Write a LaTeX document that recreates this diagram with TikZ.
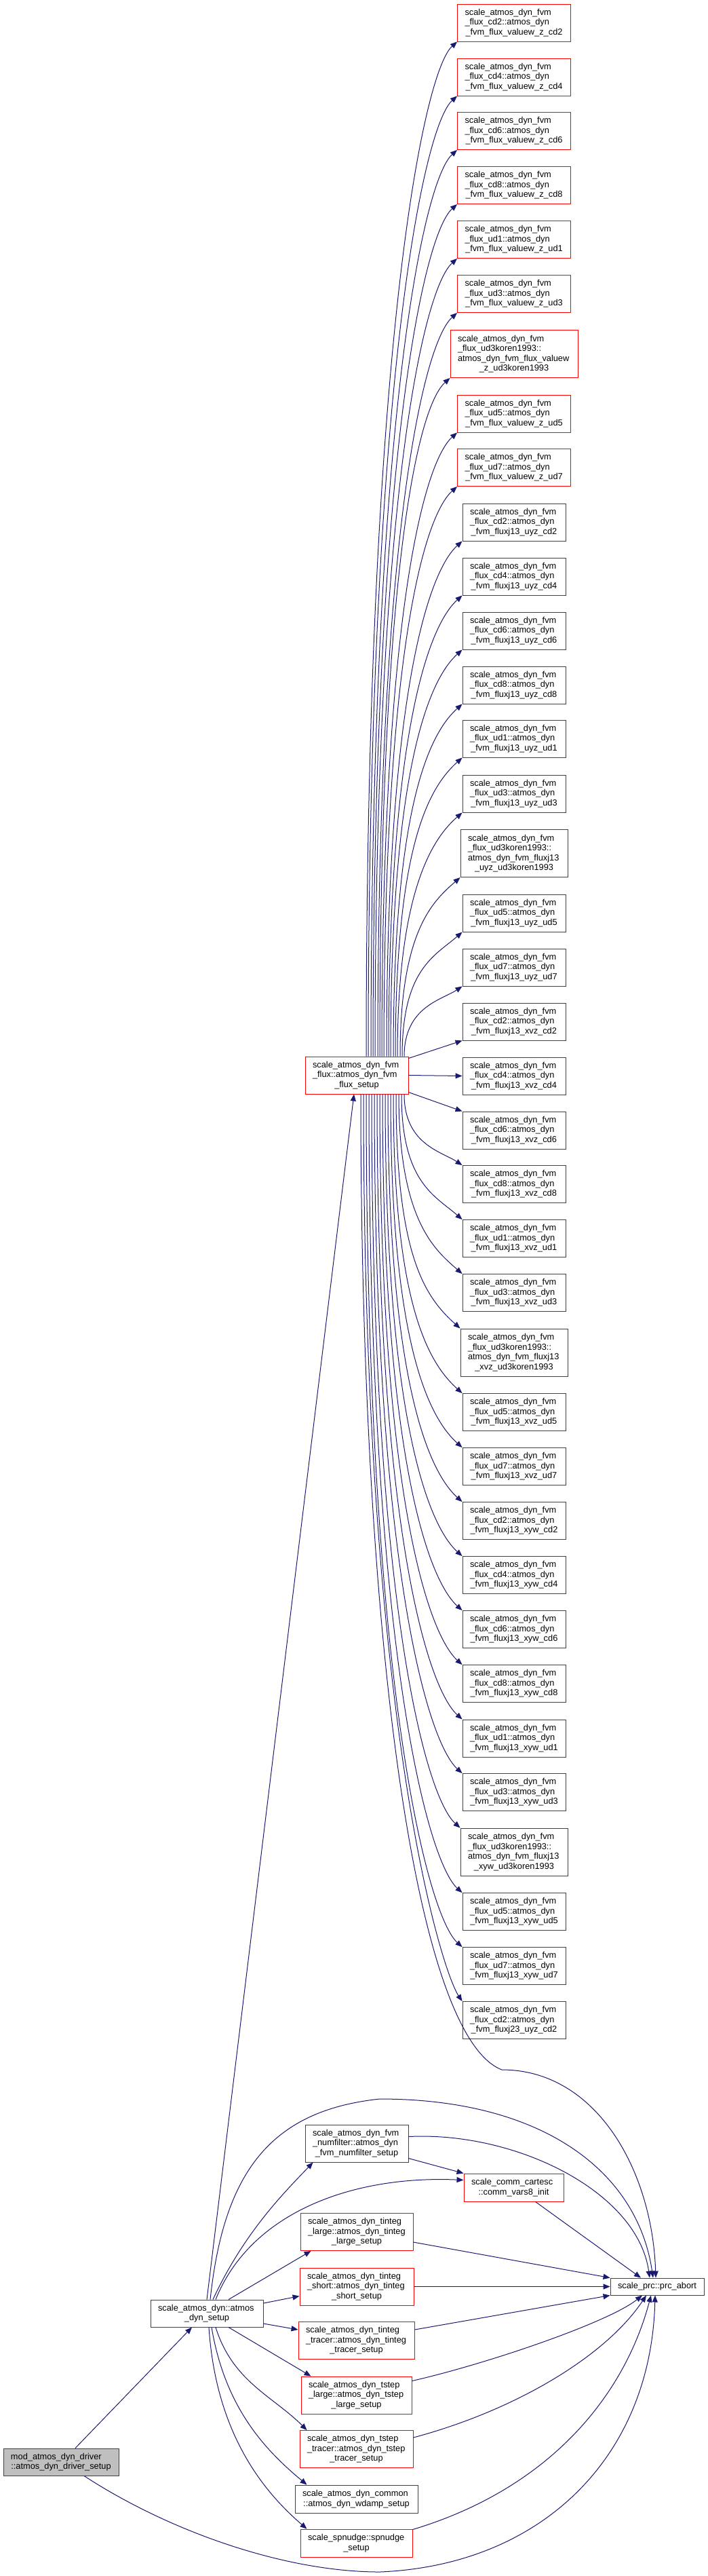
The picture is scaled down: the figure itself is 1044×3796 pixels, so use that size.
\documentclass[tikz,border=0pt]{standalone}
\usepackage{fontspec}
\setmainfont{Liberation Sans}
\usetikzlibrary{arrows.meta}
\definecolor{cblue}{HTML}{191970}
\definecolor{cgray}{HTML}{404040}
\definecolor{cred}{HTML}{FF0000}
\definecolor{cfill}{HTML}{BFBFBF}
\newcommand{\botline}[1]{\\\makebox[\linewidth]{#1}}

\begin{document}
\begin{tikzpicture}[x=1pt,y=-1pt,
  cgbox/.style={rectangle, draw=cgray, fill=white, line width=0.9pt, inner xsep=11pt, inner ysep=2pt, align=left, font=\fontsize{12.8pt}{14.5pt}\selectfont},
  cgred/.style={cgbox, draw=cred},
  cgroot/.style={cgbox, fill=cfill},
  hthree/.style={minimum height=55pt},
  hfour/.style={minimum height=70pt},
  htwo/.style={minimum height=41pt},
  fvmv/.style={cgred, hthree, text width=145pt},
  fvmvk/.style={cgred, hfour, text width=166pt},
  fvmj/.style={cgbox, hthree, text width=130pt},
  fvmjk/.style={cgbox, hfour, text width=136pt},
  callarrow/.style={draw=cblue, line width=1pt, -{Triangle[length=10pt,width=8pt]}}]
\useasboundingbox (0,0) rectangle (1044,3796);

\node[fvmv] (vcd2) at (758,33.5) {scale\_atmos\_dyn\_fvm\\\_flux\_cd2::atmos\_dyn\botline{\_fvm\_flux\_valuew\_z\_cd2}};
\node[fvmv] (vcd4) at (758,113.5) {scale\_atmos\_dyn\_fvm\\\_flux\_cd4::atmos\_dyn\botline{\_fvm\_flux\_valuew\_z\_cd4}};
\node[fvmv] (vcd6) at (758,193) {scale\_atmos\_dyn\_fvm\\\_flux\_cd6::atmos\_dyn\botline{\_fvm\_flux\_valuew\_z\_cd6}};
\node[fvmv] (vcd8) at (758,273) {scale\_atmos\_dyn\_fvm\\\_flux\_cd8::atmos\_dyn\botline{\_fvm\_flux\_valuew\_z\_cd8}};
\node[fvmv] (vud1) at (758,353) {scale\_atmos\_dyn\_fvm\\\_flux\_ud1::atmos\_dyn\botline{\_fvm\_flux\_valuew\_z\_ud1}};
\node[fvmv] (vud3) at (758,433) {scale\_atmos\_dyn\_fvm\\\_flux\_ud3::atmos\_dyn\botline{\_fvm\_flux\_valuew\_z\_ud3}};
\node[fvmvk] (vkoren) at (758,521.5) {scale\_atmos\_dyn\_fvm\\\_flux\_ud3koren1993::\\atmos\_dyn\_fvm\_flux\_valuew\botline{\_z\_ud3koren1993}};
\node[fvmv] (vud5) at (758,609.5) {scale\_atmos\_dyn\_fvm\\\_flux\_ud5::atmos\_dyn\botline{\_fvm\_flux\_valuew\_z\_ud5}};
\node[fvmv] (vud7) at (758,689) {scale\_atmos\_dyn\_fvm\\\_flux\_ud7::atmos\_dyn\botline{\_fvm\_flux\_valuew\_z\_ud7}};

\node[fvmj] (ucd2) at (758,769.5) {scale\_atmos\_dyn\_fvm\\\_flux\_cd2::atmos\_dyn\botline{\_fvm\_fluxj13\_uyz\_cd2}};
\node[fvmj] (ucd4) at (758,849.5) {scale\_atmos\_dyn\_fvm\\\_flux\_cd4::atmos\_dyn\botline{\_fvm\_fluxj13\_uyz\_cd4}};
\node[fvmj] (ucd6) at (758,929.5) {scale\_atmos\_dyn\_fvm\\\_flux\_cd6::atmos\_dyn\botline{\_fvm\_fluxj13\_uyz\_cd6}};
\node[fvmj] (ucd8) at (758,1009.5) {scale\_atmos\_dyn\_fvm\\\_flux\_cd8::atmos\_dyn\botline{\_fvm\_fluxj13\_uyz\_cd8}};
\node[fvmj] (uud1) at (758,1088.5) {scale\_atmos\_dyn\_fvm\\\_flux\_ud1::atmos\_dyn\botline{\_fvm\_fluxj13\_uyz\_ud1}};
\node[fvmj] (uud3) at (758,1169.5) {scale\_atmos\_dyn\_fvm\\\_flux\_ud3::atmos\_dyn\botline{\_fvm\_fluxj13\_uyz\_ud3}};
\node[fvmjk] (ukoren) at (758,1257.5) {scale\_atmos\_dyn\_fvm\\\_flux\_ud3koren1993::\\atmos\_dyn\_fvm\_fluxj13\botline{\_uyz\_ud3koren1993}};
\node[fvmj] (uud5) at (758,1345.5) {scale\_atmos\_dyn\_fvm\\\_flux\_ud5::atmos\_dyn\botline{\_fvm\_fluxj13\_uyz\_ud5}};
\node[fvmj] (uud7) at (758,1425.5) {scale\_atmos\_dyn\_fvm\\\_flux\_ud7::atmos\_dyn\botline{\_fvm\_fluxj13\_uyz\_ud7}};

\node[fvmj] (xcd2) at (758,1505.5) {scale\_atmos\_dyn\_fvm\\\_flux\_cd2::atmos\_dyn\botline{\_fvm\_fluxj13\_xvz\_cd2}};
\node[fvmj] (xcd4) at (758,1585.5) {scale\_atmos\_dyn\_fvm\\\_flux\_cd4::atmos\_dyn\botline{\_fvm\_fluxj13\_xvz\_cd4}};
\node[fvmj] (xcd6) at (758,1665.5) {scale\_atmos\_dyn\_fvm\\\_flux\_cd6::atmos\_dyn\botline{\_fvm\_fluxj13\_xvz\_cd6}};
\node[fvmj] (xcd8) at (758,1745) {scale\_atmos\_dyn\_fvm\\\_flux\_cd8::atmos\_dyn\botline{\_fvm\_fluxj13\_xvz\_cd8}};
\node[fvmj] (xud1) at (758,1825) {scale\_atmos\_dyn\_fvm\\\_flux\_ud1::atmos\_dyn\botline{\_fvm\_fluxj13\_xvz\_ud1}};
\node[fvmj] (xud3) at (758,1905) {scale\_atmos\_dyn\_fvm\\\_flux\_ud3::atmos\_dyn\botline{\_fvm\_fluxj13\_xvz\_ud3}};
\node[fvmjk] (xkoren) at (758,1993) {scale\_atmos\_dyn\_fvm\\\_flux\_ud3koren1993::\\atmos\_dyn\_fvm\_fluxj13\botline{\_xvz\_ud3koren1993}};
\node[fvmj] (xud5) at (758,2081) {scale\_atmos\_dyn\_fvm\\\_flux\_ud5::atmos\_dyn\botline{\_fvm\_fluxj13\_xvz\_ud5}};
\node[fvmj] (xud7) at (758,2161) {scale\_atmos\_dyn\_fvm\\\_flux\_ud7::atmos\_dyn\botline{\_fvm\_fluxj13\_xvz\_ud7}};

\node[fvmj] (wcd2) at (758,2241) {scale\_atmos\_dyn\_fvm\\\_flux\_cd2::atmos\_dyn\botline{\_fvm\_fluxj13\_xyw\_cd2}};
\node[fvmj] (wcd4) at (758,2321) {scale\_atmos\_dyn\_fvm\\\_flux\_cd4::atmos\_dyn\botline{\_fvm\_fluxj13\_xyw\_cd4}};
\node[fvmj] (wcd6) at (758,2401) {scale\_atmos\_dyn\_fvm\\\_flux\_cd6::atmos\_dyn\botline{\_fvm\_fluxj13\_xyw\_cd6}};
\node[fvmj] (wcd8) at (758,2481) {scale\_atmos\_dyn\_fvm\\\_flux\_cd8::atmos\_dyn\botline{\_fvm\_fluxj13\_xyw\_cd8}};
\node[fvmj] (wud1) at (758,2561.5) {scale\_atmos\_dyn\_fvm\\\_flux\_ud1::atmos\_dyn\botline{\_fvm\_fluxj13\_xyw\_ud1}};
\node[fvmj] (wud3) at (758,2641) {scale\_atmos\_dyn\_fvm\\\_flux\_ud3::atmos\_dyn\botline{\_fvm\_fluxj13\_xyw\_ud3}};
\node[fvmjk] (wkoren) at (758,2729) {scale\_atmos\_dyn\_fvm\\\_flux\_ud3koren1993::\\atmos\_dyn\_fvm\_fluxj13\botline{\_xyw\_ud3koren1993}};
\node[fvmj] (wud5) at (758,2817) {scale\_atmos\_dyn\_fvm\\\_flux\_ud5::atmos\_dyn\botline{\_fvm\_fluxj13\_xyw\_ud5}};
\node[fvmj] (wud7) at (758,2897) {scale\_atmos\_dyn\_fvm\\\_flux\_ud7::atmos\_dyn\botline{\_fvm\_fluxj13\_xyw\_ud7}};
\node[fvmj] (jcd2) at (758,2977) {scale\_atmos\_dyn\_fvm\\\_flux\_cd2::atmos\_dyn\botline{\_fvm\_fluxj23\_uyz\_cd2}};

\node[cgred, hthree, text width=130pt] (fluxsetup) at (526,1584.5) {scale\_atmos\_dyn\_fvm\\\_flux::atmos\_dyn\_fvm\botline{\_flux\_setup}};
\node[cgbox, hthree, text width=130pt] (numfilter) at (526,3158.5) {scale\_atmos\_dyn\_fvm\\\_numfilter::atmos\_dyn\botline{\_fvm\_numfilter\_setup}};
\node[cgred, htwo, text width=125pt] (comm) at (757.5,3223.5) {scale\_comm\_cartesc\botline{::comm\_vars8\_init}};
\node[cgred, hthree, text width=144pt] (tlarge) at (526,3289) {scale\_atmos\_dyn\_tinteg\\\_large::atmos\_dyn\_tinteg\botline{\_large\_setup}};
\node[cgred, hthree, text width=146pt] (tshort) at (526,3369.5) {scale\_atmos\_dyn\_tinteg\\\_short::atmos\_dyn\_tinteg\botline{\_short\_setup}};
\node[cgred, hthree, text width=149pt] (ttracer) at (525.5,3449) {scale\_atmos\_dyn\_tinteg\\\_tracer::atmos\_dyn\_tinteg\botline{\_tracer\_setup}};
\node[cgred, hthree, text width=141pt] (slarge) at (525.5,3529.5) {scale\_atmos\_dyn\_tstep\\\_large::atmos\_dyn\_tstep\botline{\_large\_setup}};
\node[cgred, hthree, text width=145pt] (stracer) at (525.5,3609) {scale\_atmos\_dyn\_tstep\\\_tracer::atmos\_dyn\_tstep\botline{\_tracer\_setup}};
\node[cgbox, htwo, text width=159pt] (wdamp) at (525.5,3682.5) {scale\_atmos\_dyn\_common\botline{::atmos\_dyn\_wdamp\_setup}};
\node[cgred, htwo, text width=143pt] (spnudge) at (525.5,3747.5) {scale\_spnudge::spnudge\botline{\_setup}};
\node[cgbox, minimum height=25pt, text width=116pt, align=center] (prc) at (969,3369.5) {scale\_prc::prc\_abort};
\node[cgbox, minimum height=40pt, text width=144pt] (ads) at (305,3409) {scale\_atmos\_dyn::atmos\botline{\_dyn\_setup}};
\node[cgroot, minimum height=40pt, text width=148pt] (driver) at (90,3628) {mod\_atmos\_dyn\_driver\botline{::atmos\_dyn\_driver\_setup}};

\draw[callarrow] ([xshift=14pt]fluxsetup.north) .. controls +(0,-1047) and +(-50,45) .. (vcd2.south west);
\draw[callarrow] ([xshift=17pt]fluxsetup.north) .. controls +(0,-991) and +(-50,45) .. (vcd4.south west);
\draw[callarrow] ([xshift=21pt]fluxsetup.north) .. controls +(0,-936) and +(-50,45) .. (vcd6.south west);
\draw[callarrow] ([xshift=24pt]fluxsetup.north) .. controls +(0,-880) and +(-50,45) .. (vcd8.south west);
\draw[callarrow] ([xshift=27pt]fluxsetup.north) .. controls +(0,-824) and +(-50,45) .. (vud1.south west);
\draw[callarrow] ([xshift=31pt]fluxsetup.north) .. controls +(0,-768) and +(-50,45) .. (vud3.south west);
\draw[callarrow] ([xshift=34pt]fluxsetup.north) .. controls +(0,-700) and +(-50,45) .. (vkoren.south west);
\draw[callarrow] ([xshift=37pt]fluxsetup.north) .. controls +(0,-644) and +(-50,45) .. (vud5.south west);
\draw[callarrow] ([xshift=40pt]fluxsetup.north) .. controls +(0,-588) and +(-50,45) .. (vud7.south west);
\draw[callarrow] ([xshift=44pt]fluxsetup.north) .. controls +(0,-532) and +(-50,45) .. (ucd2.south west);
\draw[callarrow] ([xshift=47pt]fluxsetup.north) .. controls +(0,-476) and +(-50,45) .. (ucd4.south west);
\draw[callarrow] ([xshift=50pt]fluxsetup.north) .. controls +(0,-420) and +(-50,45) .. (ucd6.south west);
\draw[callarrow] ([xshift=54pt]fluxsetup.north) .. controls +(0,-364) and +(-50,45) .. (ucd8.south west);
\draw[callarrow] ([xshift=57pt]fluxsetup.north) .. controls +(0,-309) and +(-50,45) .. (uud1.south west);
\draw[callarrow] ([xshift=60pt]fluxsetup.north) .. controls +(0,-252) and +(-40,35) .. (uud3.south west);
\draw[callarrow] ([xshift=64pt]fluxsetup.north) .. controls +(0,-185) and +(-40,35) .. (ukoren.south west);
\draw[callarrow] ([xshift=67pt]fluxsetup.north) .. controls +(0,-129) and +(-40,35) .. (uud5.south west);
\draw[callarrow] ([xshift=70pt]fluxsetup.north) .. controls +(0,-73) and +(-30,20) .. (uud7.south west);
\draw[callarrow] ([yshift=25pt]fluxsetup.east) -- (xcd2.south west);
\draw[callarrow] (fluxsetup.east) -- (xcd4.west);
\draw[callarrow] ([yshift=-25pt]fluxsetup.east) -- (xcd6.north west);
\draw[callarrow] ([xshift=70pt]fluxsetup.south) .. controls +(0,74) and +(-30,-20) .. (xcd8.north west);
\draw[callarrow] ([xshift=66pt]fluxsetup.south) .. controls +(0,130) and +(-40,-35) .. (xud1.north west);
\draw[callarrow] ([xshift=62pt]fluxsetup.south) .. controls +(0,186) and +(-40,-35) .. (xud3.north west);
\draw[callarrow] ([xshift=58pt]fluxsetup.south) .. controls +(0,242) and +(-50,-45) .. (xkoren.north west);
\draw[callarrow] ([xshift=54pt]fluxsetup.south) .. controls +(0,309) and +(-50,-45) .. (xud5.north west);
\draw[callarrow] ([xshift=50pt]fluxsetup.south) .. controls +(0,365) and +(-50,-45) .. (xud7.north west);
\draw[callarrow] ([xshift=46pt]fluxsetup.south) .. controls +(0,421) and +(-50,-45) .. (wcd2.north west);
\draw[callarrow] ([xshift=42pt]fluxsetup.south) .. controls +(0,477) and +(-50,-45) .. (wcd4.north west);
\draw[callarrow] ([xshift=38pt]fluxsetup.south) .. controls +(0,533) and +(-50,-45) .. (wcd6.north west);
\draw[callarrow] ([xshift=34pt]fluxsetup.south) .. controls +(0,589) and +(-50,-45) .. (wcd8.north west);
\draw[callarrow] ([xshift=30pt]fluxsetup.south) .. controls +(0,645) and +(-50,-45) .. (wud1.north west);
\draw[callarrow] ([xshift=26pt]fluxsetup.south) .. controls +(0,701) and +(-50,-45) .. (wud3.north west);
\draw[callarrow] ([xshift=22pt]fluxsetup.south) .. controls +(0,757) and +(-50,-45) .. (wkoren.north west);
\draw[callarrow] ([xshift=18pt]fluxsetup.south) .. controls +(0,824) and +(-50,-45) .. (wud5.north west);
\draw[callarrow] ([xshift=14pt]fluxsetup.south) .. controls +(0,880) and +(-50,-45) .. (wud7.north west);
\draw[callarrow] ([xshift=10pt]fluxsetup.south) .. controls +(0,936) and +(-30,-45) .. (jcd2.north west);
\draw[callarrow] ([xshift=6pt]fluxsetup.south) .. controls +(0,790) and +(-130,-50) .. (740,3050) .. controls +(140,0) and +(-5,-157) .. ([xshift=-2pt]prc.north);

\draw[callarrow] ([xshift=21pt]driver.north) -- ([xshift=-22pt]ads.south);
\draw[callarrow] ([xshift=34pt]driver.south) .. controls +(126,82) and +(-140,0) .. (560,3790) .. controls +(240,-10) and +(-6,237) .. ([xshift=-3pt]prc.south);
\draw[callarrow] (ads.north) -- ([xshift=-4pt]fluxsetup.south);
\draw[callarrow] ([xshift=5pt]ads.north) .. controls +(20,-189) and +(-160,17) .. (560,3093) .. controls +(240,0) and +(-23,-157) .. ([xshift=-6pt]prc.north);
\draw[callarrow] ([xshift=9pt]ads.north) .. controls +(46,-99) and +(-42,44) .. ([xshift=12pt]numfilter.south west);
\draw[callarrow] ([xshift=13pt]ads.north) .. controls +(52,-129) and +(-163,-7) .. ([yshift=11pt]comm.west);
\draw[callarrow] ([xshift=32pt]ads.north) -- ([xshift=16pt]tlarge.south west);
\draw[callarrow] ([yshift=15pt]ads.east) -- ([yshift=-14pt]tshort.west);
\draw[callarrow] ([yshift=-15pt]ads.east) -- ([yshift=16pt]ttracer.west);
\draw[callarrow] ([xshift=32pt]ads.south) -- ([xshift=15pt]slarge.north west);
\draw[callarrow] ([xshift=13pt]ads.south) .. controls +(25,80) and +(-50,-50) .. ([xshift=11pt]stracer.north west);
\draw[callarrow] ([xshift=7pt]ads.south) .. controls +(20,120) and +(-60,-50) .. ([xshift=18pt]wdamp.north west);
\draw[callarrow] ([xshift=3pt]ads.south) .. controls +(10,150) and +(-70,-60) .. ([xshift=10pt]spnudge.north west);

\draw[callarrow] ([yshift=-22pt]numfilter.east) -- (comm.north west);
\draw[callarrow] ([yshift=10pt]numfilter.east) .. controls +(158,-8) and +(-18,-127) .. ([xshift=-11pt]prc.north);
\draw[callarrow] ([xshift=32pt]comm.south) -- ([xshift=-24pt]prc.north);
\draw[callarrow] ([yshift=-15pt]tlarge.east) -- (prc.north west);
\draw[callarrow] (tshort.east) -- (prc.west);
\draw[callarrow] ([yshift=16pt]ttracer.east) -- (prc.south west);
\draw[callarrow] ([yshift=21pt]slarge.east) .. controls +(110,-25) and +(-50,40) .. ([xshift=-22pt]prc.south);
\draw[callarrow] ([yshift=17pt]stracer.east) .. controls +(150,-40) and +(-60,90) .. ([xshift=-16pt]prc.south);
\draw[callarrow] ([yshift=20pt]spnudge.east) .. controls +(200,-60) and +(-40,150) .. ([xshift=-9pt]prc.south);
\end{tikzpicture}
\end{document}
